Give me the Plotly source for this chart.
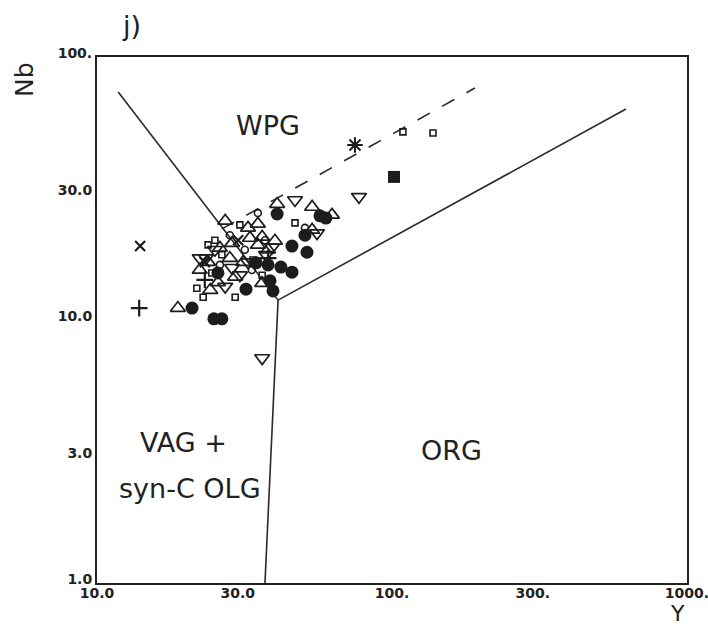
import plotly.graph_objects as go

# --- Tectonic discrimination boundaries (Y, Nb) ---
wpg_vag_y = [11.8, 41.1]
wpg_vag_nb = [73.6, 11.9]
wpg_org_y = [41.1, 621.0]
wpg_org_nb = [11.9, 63.4]
vag_org_y = [41.1, 37.1]
vag_org_nb = [11.9, 1.0]
dashed_y = [26.5, 191.0]
dashed_nb = [22.2, 76.2]

# --- Samples (Y ppm, Nb ppm) by symbol group ---
tri_up_y = [18.8, 27.2, 40.8, 53.6, 62.6, 40.1, 29.4, 24.2, 36.3, 35.1,
            23.8, 28.2, 33.0, 28.7, 22.3, 53.6, 35.1, 38.0,
            32.5, 36.3, 26.1, 31.3, 25.7]
tri_up_nb = [11.1, 23.8, 27.6, 26.9, 25.1, 20.0, 14.6, 13.0, 13.8, 23.2,
             16.6, 17.2, 20.5, 19.6, 15.5, 22.0, 19.3, 18.5,
             22.4, 20.7, 18.8, 16.6, 13.9]

tri_down_y = [46.9, 77.3, 36.3, 55.7, 27.2, 22.3, 32.5, 30.5, 25.1, 37.4,
              23.4, 28.7, 39.2]
tri_down_nb = [28.6, 29.4, 7.17, 21.4, 13.4, 17.2, 16.6, 14.8, 18.5, 17.7,
               17.2, 15.8, 18.9]

square_y = [108.9, 137.7, 46.9, 29.4, 21.8, 22.9, 23.8, 26.5, 30.5, 33.8, 24.5,
            25.1, 36.3]
square_nb = [51.9, 51.4, 23.4, 12.2, 13.2, 12.2, 19.3, 17.7, 23.0, 16.9, 15.1,
             20.1, 14.8]

circle_y = [35.1, 50.7, 28.2, 31.7, 26.1, 37.1, 33.5]
circle_nb = [25.5, 22.4, 21.0, 18.5, 16.2, 20.1, 15.5]

dot_y = [21.0, 24.9, 26.5, 25.7, 32.0, 34.6, 38.0, 42.0, 45.8, 38.6,
         39.5, 45.8, 51.5, 50.7, 40.8, 57.0, 59.7]
dot_nb = [11.1, 10.1, 10.1, 15.1, 13.1, 16.5, 16.2, 15.9, 15.2, 14.1,
          12.9, 19.1, 18.1, 21.0, 25.3, 24.9, 24.4]

cross_y = [14.0, 23.2, 30.1]
cross_nb = [19.1, 16.6, 20.1]

plus_y = [13.9, 23.2, 38.0]
plus_nb = [11.1, 14.2, 17.2]

star_y = [74.9]
star_nb = [46.3]

filled_sq_y = [101.6]
filled_sq_nb = [35.0]

x_ticks = [10, 30, 100, 300, 1000]
x_tick_text = ["10.0", "30.0", "100.", "300.", "1000."]
y_ticks = [1, 3, 10, 30, 100]
y_tick_text = ["1.0", "3.0", "10.0", "30.0", "100."]

INK = "#1c1c1c"
LINE = "#2a2a2a"

fig = go.Figure()

for xs, ys in [(wpg_vag_y, wpg_vag_nb), (wpg_org_y, wpg_org_nb), (vag_org_y, vag_org_nb)]:
    fig.add_trace(go.Scatter(x=xs, y=ys, mode="lines",
                             line=dict(color=LINE, width=1.6), hoverinfo="skip"))
fig.add_trace(go.Scatter(x=dashed_y, y=dashed_nb, mode="lines",
                         line=dict(color=LINE, width=1.6, dash="14px,14px"),
                         hoverinfo="skip"))


def add_markers(xs, ys, symbol, size, width=1.7):
    fig.add_trace(go.Scatter(
        x=xs, y=ys, mode="markers",
        marker=dict(symbol=symbol, size=size, color=INK,
                    line=dict(color=INK, width=width)),
    ))


add_markers(square_y, square_nb, "square-open", 6, width=1.6)
add_markers(circle_y, circle_nb, "circle-open", 7, width=1.6)
add_markers(tri_up_y, tri_up_nb, "triangle-up-open", 13)
add_markers(tri_down_y, tri_down_nb, "triangle-down-open", 13)
add_markers(dot_y, dot_nb, "circle", 13, width=0)
add_markers(cross_y, cross_nb, "x-thin", 10, width=2.2)
add_markers(plus_y, plus_nb, "cross-thin", 12, width=2.2)
add_markers(star_y, star_nb, "asterisk", 13, width=2)
add_markers(filled_sq_y, filled_sq_nb, "square", 12, width=0)

label_font = dict(family="DejaVu Sans", size=27, color="#222222")
annotations = [
    dict(x=268, y=125, text="WPG"),
    dict(x=452, y=450, text="ORG"),
    dict(x=183, y=443, text="VAG +"),
    dict(x=190, y=488, text="syn-C OLG"),
    dict(x=131, y=26, text="j)"),
]
for a in annotations:
    fig.add_annotation(x=a["x"], y=a["y"], text=a["text"], showarrow=False,
                       font=label_font, xanchor="center", yanchor="middle")
fig.add_annotation(x=677, y=613, text="Y", showarrow=False,
                   font=dict(family="DejaVu Sans", size=22, color="#222222"),
                   xanchor="center", yanchor="middle", borderpad=0)
fig.add_annotation(x=24, y=80, text="Nb", textangle=-90, showarrow=False,
                   font=dict(family="DejaVu Sans", size=25, color="#222222"),
                   xanchor="center", yanchor="middle")

# annotation positions above are given in pixels; map them to paper coords
W, H = 708, 629
L, R, T, B = 97, 21, 57, 46
pw, ph = W - L - R, H - T - B
for ann in fig.layout.annotations:
    px, py = ann.x, ann.y
    ann.x = (px - L) / pw
    ann.y = (H - B - py) / ph
    ann.xref = "paper"
    ann.yref = "paper"

tick_font = dict(family="DejaVu Sans", size=14, color="#222222", weight="bold")
axis_common = dict(
    type="log", showgrid=False, zeroline=False,
    showline=True, mirror=True, linecolor="#222222", linewidth=2,
    ticks="", tickfont=tick_font, automargin=False,
    ticklabeloverflow="allow",
)
fig.update_layout(
    width=W, height=H,
    margin=dict(l=L, r=R, t=T, b=B),
    paper_bgcolor="white", plot_bgcolor="white",
    showlegend=False,
    xaxis=dict(range=[1, 3], tickvals=x_ticks, ticktext=x_tick_text,
               ticklabelstandoff=-4, **axis_common),
    yaxis=dict(range=[0, 2], tickvals=y_ticks, ticktext=y_tick_text,
               ticklabelshift=-4, ticklabelstandoff=0, **axis_common),
)

fig.write_html("out.html")
